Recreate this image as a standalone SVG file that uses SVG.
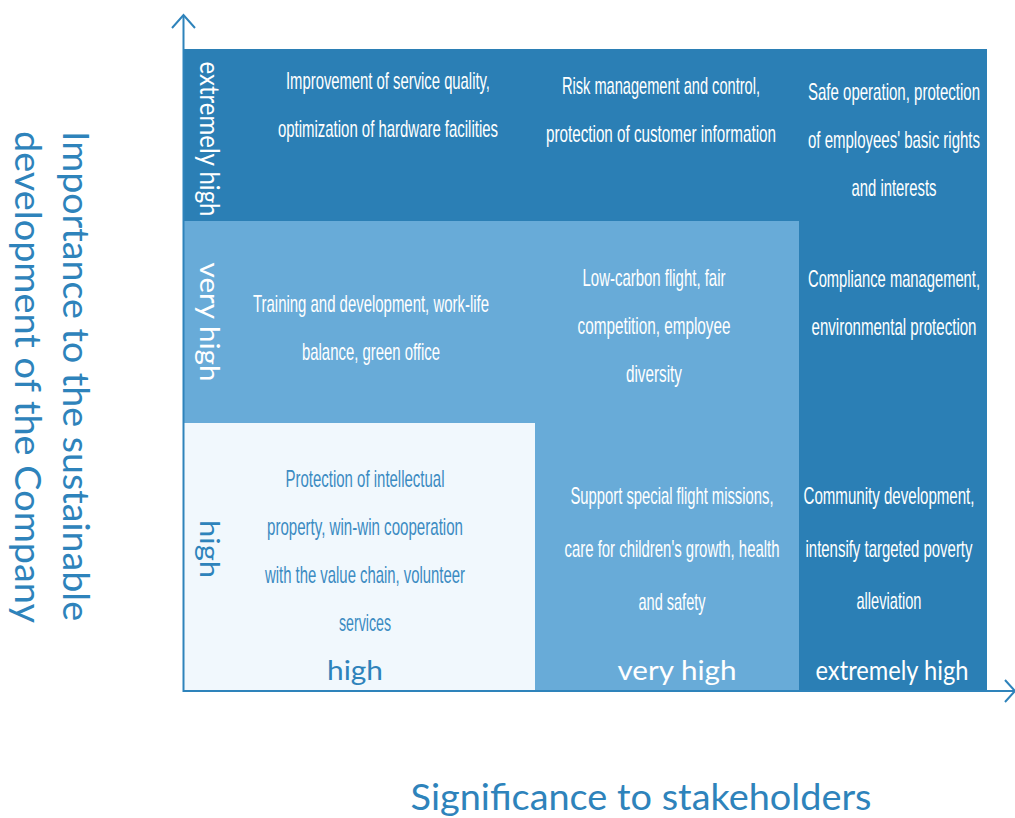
<svg xmlns="http://www.w3.org/2000/svg" width="1015" height="818" viewBox="0 0 1015 818">
<style>
.c{font-family:"Liberation Sans",Arial,sans-serif;font-size:24px;text-anchor:middle;fill:#ffffff}
.cb{fill:#3b8bc2}
.lab{font-family:Lato,"Open Sans","Liberation Sans",sans-serif;font-size:27px;text-anchor:middle;fill:#ffffff}
.vl{font-family:Lato,"Open Sans","Liberation Sans",sans-serif;font-size:26px;text-anchor:middle;fill:#ffffff}
.ttl{font-family:Lato,"Open Sans","Liberation Sans",sans-serif;font-size:36px;fill:#2e83bb}
.ax{stroke:#2e83bb;stroke-width:2;fill:none}
</style>
<rect width="1015" height="818" fill="#ffffff"/>
<g id="cells">
<g id="cell-extremely-high"><rect x="184" y="49" width="803" height="642" fill="#2b7fb5"/></g>
<g id="cell-very-high"><rect x="184" y="221" width="615" height="470" fill="#68abd8"/></g>
<g id="cell-high"><rect x="184" y="423" width="351" height="268" fill="#f1f8fd"/></g>
</g>
<g id="texts-top" transform="scale(0.6,1)">
<text class="c" x="646.67" y="89" textLength="340" lengthAdjust="spacingAndGlyphs">Improvement of service quality,</text>
<text class="c" x="646.67" y="137" textLength="366.67" lengthAdjust="spacingAndGlyphs">optimization of hardware facilities</text>
<text class="c" x="1101.67" y="94" textLength="330" lengthAdjust="spacingAndGlyphs">Risk management and control,</text>
<text class="c" x="1101.67" y="142" textLength="383.33" lengthAdjust="spacingAndGlyphs">protection of customer information</text>
<text class="c" x="1490" y="100" textLength="286.67" lengthAdjust="spacingAndGlyphs">Safe operation, protection</text>
<text class="c" x="1490" y="148" textLength="286.67" lengthAdjust="spacingAndGlyphs">of employees' basic rights</text>
<text class="c" x="1490" y="196" textLength="141.67" lengthAdjust="spacingAndGlyphs">and interests</text>
</g>
<g id="texts-middle" transform="scale(0.6,1)">
<text class="c" x="618.33" y="312" textLength="393.33" lengthAdjust="spacingAndGlyphs">Training and development, work-life</text>
<text class="c" x="618.33" y="360" textLength="230" lengthAdjust="spacingAndGlyphs">balance, green office</text>
<text class="c" x="1090" y="286" textLength="238.33" lengthAdjust="spacingAndGlyphs">Low-carbon flight, fair</text>
<text class="c" x="1090" y="334" textLength="255" lengthAdjust="spacingAndGlyphs">competition, employee</text>
<text class="c" x="1090" y="382" textLength="93.33" lengthAdjust="spacingAndGlyphs">diversity</text>
<text class="c" x="1490" y="287" textLength="286.67" lengthAdjust="spacingAndGlyphs">Compliance management,</text>
<text class="c" x="1490" y="335" textLength="275" lengthAdjust="spacingAndGlyphs">environmental protection</text>
</g>
<g id="texts-bottom" transform="scale(0.6,1)">
<text class="c cb" x="608.33" y="487" textLength="265" lengthAdjust="spacingAndGlyphs">Protection of intellectual</text>
<text class="c cb" x="608.33" y="535" textLength="326.67" lengthAdjust="spacingAndGlyphs">property, win-win cooperation</text>
<text class="c cb" x="608.33" y="583" textLength="333.33" lengthAdjust="spacingAndGlyphs">with the value chain, volunteer</text>
<text class="c cb" x="608.33" y="631" textLength="86.67" lengthAdjust="spacingAndGlyphs">services</text>
<text class="c" x="1120" y="504" textLength="338.33" lengthAdjust="spacingAndGlyphs">Support special flight missions,</text>
<text class="c" x="1120" y="557" textLength="358.33" lengthAdjust="spacingAndGlyphs">care for children's growth, health</text>
<text class="c" x="1120" y="610" textLength="111.67" lengthAdjust="spacingAndGlyphs">and safety</text>
<text class="c" x="1481.67" y="504" textLength="285" lengthAdjust="spacingAndGlyphs">Community development,</text>
<text class="c" x="1481.67" y="557" textLength="278.33" lengthAdjust="spacingAndGlyphs">intensify targeted poverty</text>
<text class="c" x="1481.67" y="609" textLength="108.33" lengthAdjust="spacingAndGlyphs">alleviation</text>
</g>
<g id="x-labels">
<text class="lab" x="355" y="680" style="fill:#2e83bb" textLength="56" lengthAdjust="spacingAndGlyphs">high</text>
<text class="lab" x="677" y="680" textLength="119" lengthAdjust="spacingAndGlyphs">very high</text>
<text class="lab" x="892" y="680" textLength="153" lengthAdjust="spacingAndGlyphs">extremely high</text>
</g>
<g id="y-labels">
<text class="vl" transform="translate(200,139) rotate(90)" textLength="155" lengthAdjust="spacingAndGlyphs">extremely high</text>
<text class="vl" transform="translate(200,322) rotate(90)" textLength="119" lengthAdjust="spacingAndGlyphs">very high</text>
<text class="vl" transform="translate(200,549) rotate(90)" style="fill:#2e83bb" textLength="58" lengthAdjust="spacingAndGlyphs">high</text>
</g>
<g id="connectors">
<line class="ax" x1="183.5" y1="15" x2="183.5" y2="692"/>
<polyline class="ax" points="172,28 183.5,15 195,28"/>
<line class="ax" x1="183" y1="691" x2="1014" y2="691"/>
<polyline class="ax" points="1005,680 1015,691 1005,702"/>
</g>
<g id="titles">
<text class="ttl" transform="translate(63,131) rotate(90)" textLength="490" lengthAdjust="spacingAndGlyphs">Importance to the sustainable</text>
<text class="ttl" transform="translate(15,131) rotate(90)" textLength="492" lengthAdjust="spacingAndGlyphs">development of the Company</text>
<text class="ttl" x="641" y="810" text-anchor="middle" textLength="461" lengthAdjust="spacingAndGlyphs">Significance to stakeholders</text>
</g>
</svg>
